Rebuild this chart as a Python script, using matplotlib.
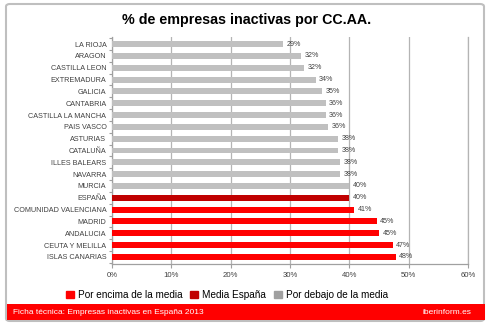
import matplotlib.pyplot as plt
from matplotlib.patches import FancyBboxPatch, Rectangle, Patch

plt.rcParams['font.family'] = ['Liberation Sans', 'DejaVu Sans']

regiones = ["LA RIOJA", "ARAGON", "CASTILLA LEON", "EXTREMADURA", "GALICIA",
            "CANTABRIA", "CASTILLA LA MANCHA", "PAIS VASCO", "ASTURIAS",
            "CATALUÑA", "ILLES BALEARS", "NAVARRA", "MURCIA", "ESPAÑA",
            "COMUNIDAD VALENCIANA", "MADRID", "ANDALUCIA", "CEUTA Y MELILLA",
            "ISLAS CANARIAS"]
inactivas = [28.9, 31.9, 32.4, 34.3, 35.4, 36.0, 36.0, 36.4, 38.1, 38.1,
             38.4, 38.4, 40.0, 40.0, 40.8, 44.6, 45.0, 47.3, 47.8]
media = 40.0

ROJO = "#FF0000"
ROJO_OSCURO = "#C00000"
GRIS = "#C0C0C0"

colores = []
for r, v in zip(regiones, inactivas):
    if r == "ESPAÑA":
        colores.append(ROJO_OSCURO)
    elif v > media:
        colores.append(ROJO)
    else:
        colores.append(GRIS)

W, H = 490, 325
fig = plt.figure(figsize=(W / 100, H / 100), dpi=100)

# marco exterior y banda roja del pie
fig.patches.append(FancyBboxPatch((6 / W, 4 / H), 478 / W, 317 / H,
                                  boxstyle="round,pad=0,rounding_size=0.008",
                                  transform=fig.transFigure, facecolor="white",
                                  edgecolor="#BFBFBF", linewidth=1.5,
                                  zorder=-2))
fig.patches.append(Rectangle((7 / W, 5 / H), 478 / W, 16 / H,
                             transform=fig.transFigure, facecolor=ROJO,
                             edgecolor="none", zorder=-1))
fig.text(13 / W, 13 / H, "Ficha técnica: Empresas inactivas en España 2013",
         color="white", fontsize=6, va="center", ha="left")
fig.text(471 / W, 13 / H, "iberinform.es", color="white", fontsize=6,
         va="center", ha="right")

fig.text(247 / W, 305 / H, "% de empresas inactivas por CC.AA.",
         fontsize=10.3, fontweight="bold", ha="center", va="center")

ax = fig.add_axes([112 / W, 61 / H, 356 / W, 227 / H])
ax.set_facecolor("none")
y = list(range(len(regiones)))
ax.barh(y, inactivas, height=0.5, color=colores, zorder=3)
for yi, v in zip(y, inactivas):
    ax.text(v + 0.6, yi, f"{v:.0f}%", fontsize=5.1, color="#404040",
            va="center", ha="left", zorder=4)

ax.set_ylim(len(regiones) - 0.4, -0.6)
ax.set_xlim(0, 60)
ax.set_xticks(range(0, 61, 10))
ax.set_xticklabels([f"{t}%" for t in range(0, 61, 10)])
ax.set_yticks(y)
ax.set_yticklabels(regiones)
ax.set_yticks([i - 0.5 for i in range(len(regiones) + 1)], minor=True)
ax.tick_params(axis="y", which="major", length=0, pad=4, labelsize=5.2,
               labelcolor="#404040")
ax.tick_params(axis="y", which="minor", length=2, width=0.8, color="#A0A0A0")
ax.tick_params(axis="x", length=3, width=0.8, color="#A0A0A0", pad=3,
               labelsize=5.6, labelcolor="#404040")
ax.grid(axis="x", color="#B4B4B4", linewidth=0.9, zorder=0)
ax.spines["top"].set_visible(False)
ax.spines["right"].set_color("#B4B4B4")
ax.spines["right"].set_linewidth(0.9)
for s in ["left", "bottom"]:
    ax.spines[s].set_color("#A0A0A0")
    ax.spines[s].set_linewidth(0.9)

handles = [Patch(color=ROJO, label="Por encima de la media"),
           Patch(color=ROJO_OSCURO, label="Media España"),
           Patch(color="#A0A0A0", label="Por debajo de la media")]
fig.legend(handles=handles, loc="center", bbox_to_anchor=(227 / W, 30 / H),
           ncol=3, frameon=False, fontsize=7.2, handlelength=0.8,
           handleheight=0.8, handletextpad=0.4, columnspacing=0.8)

fig.savefig("out.png", dpi=100)
